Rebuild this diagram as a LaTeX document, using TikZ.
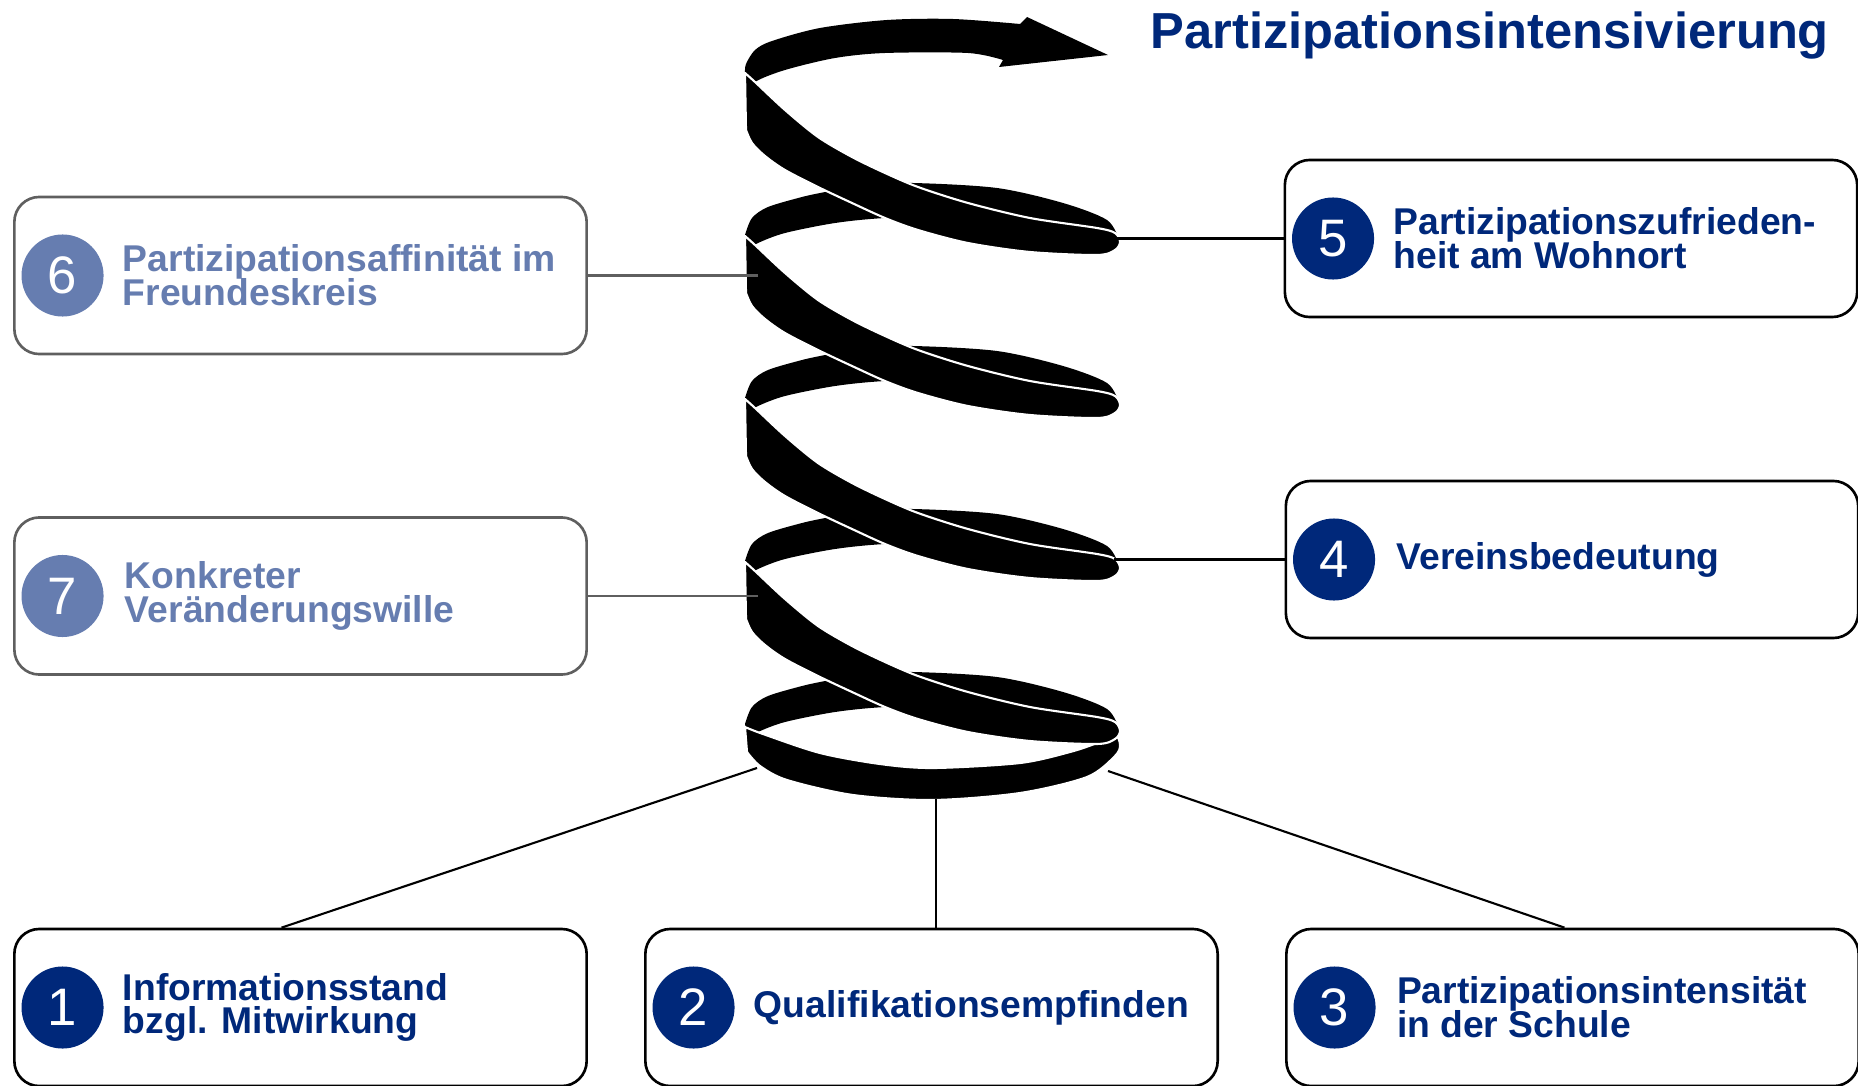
\documentclass[tikz,border=0pt]{standalone}
\usepackage{fontspec}
\setmainfont{Liberation Sans}
\usetikzlibrary{positioning, calc}

\definecolor{navy}{RGB}{0,40,122}
\definecolor{paleblue}{RGB}{102,125,176}
\definecolor{framegray}{RGB}{95,95,95}
\setlength{\lineskiplimit}{-20pt}

\begin{document}
\begin{tikzpicture}[
    x=0.01cm, y=-0.01cm,
    % 定义样式
    itembox/.style={draw, rounded corners=0.25cm, line width=0.75pt, minimum width=5.72cm, minimum height=1.57cm, inner sep=0pt},
    darkbox/.style={itembox, draw=black},
    palebox/.style={itembox, draw=framegray},
    num/.style={circle, minimum size=0.82cm, inner sep=0pt, text=white, font=\fontsize{15}{15}\selectfont},
    darknum/.style={num, fill=navy},
    palenum/.style={num, fill=paleblue},
    boxtext/.style={align=left, inner sep=0pt, font=\bfseries\fontsize{10.6}{9.6}\selectfont},
    darktext/.style={boxtext, text=navy},
    paletext/.style={boxtext, text=paleblue},
    backarc/.style={fill=black},
    frontband/.style={fill=black, draw=white, line width=0.6pt, line join=round},
    link/.style={draw=black, line width=0.6pt},
    palelink/.style={link, draw=framegray}
]
\useasboundingbox (0,0) rectangle (1858,1085);

% --- 配置参数 ---
\def\coilgap{163} % 螺旋每圈的间距
\def\coilnum{3}   % 螺旋圈数 - 1

% --- 标题 ---
\node[anchor=base west, inner sep=0pt, text=navy, font=\bfseries\fontsize{14.4}{17}\selectfont] (title) at (1150,49) {Partizipationsintensivierung};

% --- 螺旋 ---

% 顶部带箭头的圈
\fill[backarc] plot[smooth] coordinates {(745,73) (746,64) (755,50) (772,41) (820,28) (887,20) (953,19) (1020,24)}
    -- (1027,17) -- (1108,55) -- (999,67)
    -- plot[smooth] coordinates {(1003,60) (968,53) (885,53) (835,58) (785,70) (755,82) (748,95)} -- cycle;

% 后面的半圈
\foreach \k in {0,...,\coilnum}
    \fill[backarc, shift={(0,\coilgap*\k)}]
        plot[smooth] coordinates {(1119,240) (1107,220) (1063,203) (997,188) (913,183) (860,185) (825,192) (802,197) (768,207) (752,218) (745,235)}
        -- plot[smooth] coordinates {(748,250) (758,243) (785,233) (835,223) (885,218) (960,216) (1030,222) (1090,232) (1117,244)} -- cycle;

% 底部的圈
\path[frontband] plot[smooth] coordinates {(745,727) (763,734) (820,753) (880,764) (933,768) (1020,763) (1070,752) (1097,743) (1115,735) (1120,745) (1115,756) (1087,777) (1020,793) (933,800) (853,795) (787,780) (760,766) (747,752)} -- cycle;

% 前面的半圈
\foreach \k in {0,...,\coilnum}
    \path[frontband, shift={(0,\coilgap*\k)}]
        plot[smooth] coordinates {(745,73) (755,82) (785,110) (818,137) (852,157) (885,173) (918,187) (968,203) (1030,218) (1097,228) (1115,233) (1120,242) (1115,250) (1097,255) (1030,252) (968,243) (918,230) (885,218) (852,203) (818,187) (785,170) (765,156) (752,143) (746,130)} -- cycle;

% 螺旋上的连接点
\coordinate (s6) at (758,275.5);
\coordinate (s7) at (758,596);
\coordinate (s5) at (1116,238.5);
\coordinate (s4) at (1114,559.5);
\coordinate (s1) at (757,768);
\coordinate (s2) at (936,799);
\coordinate (s3) at (1108,771);

% --- 方框 ---
\node[palebox] (b6) at (300.5,275.5) {};
\node[palebox] (b7) at (300.5,596) {};
\node[darkbox] (b1) at (300.5,1007.5) {};
\node[darkbox] (b2) at (931.5,1007.5) {};
\node[darkbox] (b3) at (1572.5,1007.5) {};
\node[darkbox] (b4) at (1572,559.5) {};
\node[darkbox] (b5) at (1571,238.5) {};

% --- 编号 ---
\foreach \i in {1,...,5}
    \node[darknum] (n\i) at ([xshift=0.495cm]b\i.west) {\i};
\foreach \i in {6,7}
    \node[palenum] (n\i) at ([xshift=0.495cm]b\i.west) {\i};

% --- 文字 ---
\node[paletext, right=0.18cm of n6] (t6) {Partizipationsaffinität im\\Freundeskreis};
\node[paletext, right=0.2cm of n7] (t7) {Konkreter\\Veränderungswille};
\node[darktext, right=0.18cm of n1] (t1) {Informationsstand\\bzgl. Mitwirkung};
\node[darktext, right=0.18cm of n2] (t2) {Qualifikationsempfinden};
\node[darktext, right=0.2cm of n3] (t3) {Partizipationsintensität\\in der Schule};
\node[darktext, right=0.2cm of n4] (t4) {Vereinsbedeutung};
\node[darktext, right=0.18cm of n5] (t5) {Partizipationszufrieden-\\heit am Wohnort};

% --- 连接线 ---
\draw[palelink] (b6.east) -- (s6);
\draw[palelink] (b7.east) -- (s7);
\draw[link] (b5.west) -- (s5);
\draw[link] (b4.west) -- (s4);
\draw[link] ($(b1.north)+(-19,0)$) -- (s1);
\draw[link] (b2.north -| s2) -- (s2);
\draw[link] ($(b3.north)+(-8,0)$) -- (s3);

\end{tikzpicture}
\end{document}
